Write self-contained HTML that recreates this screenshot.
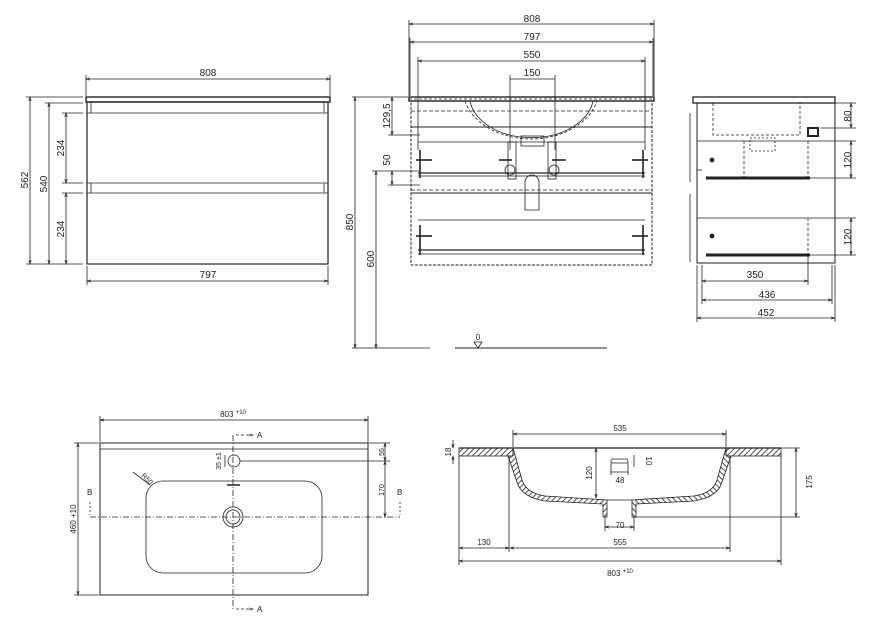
<!DOCTYPE html>
<html><head><meta charset="utf-8"><style>
html,body{margin:0;padding:0;background:#fff;}
svg{display:block;}
text{font-family:"Liberation Sans",sans-serif;font-size:10px;fill:#222;}
</style></head><body>
<svg width="875" height="630" viewBox="0 0 875 630" xmlns="http://www.w3.org/2000/svg">
<defs>
<marker id="a" markerWidth="6" markerHeight="6" refX="5" refY="3" orient="auto-start-reverse"><path d="M0,1.5 L5,3 L0,4.5" fill="none" stroke="#222" stroke-width="0.8"/></marker>
<pattern id="h" width="4" height="4" patternUnits="userSpaceOnUse" patternTransform="rotate(45)"><rect width="4" height="4" fill="#fff"/><line x1="0" y1="0" x2="0" y2="4" stroke="#222" stroke-width="1.6"/></pattern>
</defs>
<g stroke="#222" fill="none" stroke-width="0.8">
<!-- ===== Front view left ===== -->
<rect x="86" y="97" width="244" height="5" stroke-width="1.4"/>
<rect x="87" y="102" width="241" height="162" stroke-width="1.2"/>
<line x1="87" y1="113" x2="328" y2="113"/>
<line x1="87" y1="183" x2="328" y2="183"/>
<line x1="87" y1="193" x2="328" y2="193"/>
<line x1="91" y1="102" x2="91" y2="113"/><line x1="324" y1="102" x2="324" y2="113"/>
<line x1="91" y1="183" x2="91" y2="193"/><line x1="324" y1="183" x2="324" y2="193"/>
<line x1="86" y1="79" x2="330" y2="79" marker-start="url(#a)" marker-end="url(#a)"/>
<line x1="86" y1="75" x2="86" y2="96"/><line x1="330" y1="75" x2="330" y2="96"/>
<line x1="87" y1="281" x2="328" y2="281" marker-start="url(#a)" marker-end="url(#a)"/>
<line x1="87" y1="266" x2="87" y2="285"/><line x1="328" y1="266" x2="328" y2="285"/>
<line x1="30" y1="97" x2="30" y2="264" marker-start="url(#a)" marker-end="url(#a)"/>
<line x1="49" y1="103" x2="49" y2="264" marker-start="url(#a)" marker-end="url(#a)"/>
<line x1="66" y1="113" x2="66" y2="183" marker-start="url(#a)" marker-end="url(#a)"/>
<line x1="66" y1="193" x2="66" y2="264" marker-start="url(#a)" marker-end="url(#a)"/>
<line x1="26" y1="97" x2="83" y2="97"/><line x1="45" y1="103" x2="83" y2="103"/>
<line x1="62" y1="113" x2="83" y2="113"/><line x1="62" y1="183" x2="83" y2="183"/>
<line x1="62" y1="193" x2="83" y2="193"/><line x1="26" y1="264" x2="83" y2="264"/>

<!-- ===== Front view middle ===== -->
<line x1="409" y1="24" x2="654" y2="24" marker-start="url(#a)" marker-end="url(#a)"/>
<line x1="410" y1="42" x2="653" y2="42" marker-start="url(#a)" marker-end="url(#a)"/>
<line x1="418" y1="61" x2="645" y2="61" marker-start="url(#a)" marker-end="url(#a)"/>
<line x1="510" y1="79" x2="555" y2="79"/>
<line x1="409" y1="20" x2="409" y2="96"/><line x1="654" y1="20" x2="654" y2="96"/>
<line x1="410" y1="38" x2="410" y2="96"/><line x1="653" y1="38" x2="653" y2="96"/>
<line x1="418" y1="57" x2="418" y2="150"/><line x1="645" y1="57" x2="645" y2="150"/>
<line x1="510" y1="75" x2="510" y2="150"/><line x1="555" y1="75" x2="555" y2="150"/>
<rect x="409" y="97" width="245" height="4" stroke-width="1.4"/>
<line x1="409" y1="99" x2="654" y2="99" stroke-dasharray="3,2"/>
<rect x="411" y="101" width="241" height="164" stroke-dasharray="3,1.5" stroke-width="1"/>
<path d="M465,101 A68,50 0 0 0 597,101" stroke-dasharray="3,2"/>
<path d="M470,101 A62,42 0 0 0 593,101"/>
<line x1="411" y1="111" x2="652" y2="111" stroke-dasharray="4,2"/>
<line x1="411" y1="127" x2="652" y2="127" stroke-width="1"/>
<line x1="418" y1="142" x2="645" y2="142"/>
<line x1="418" y1="173" x2="645" y2="173" stroke-width="1.2"/>
<line x1="418" y1="176" x2="645" y2="176"/>
<line x1="411" y1="190" x2="652" y2="190" stroke-dasharray="4,2"/>
<line x1="411" y1="193" x2="652" y2="193" stroke-width="1"/>
<line x1="418" y1="220" x2="645" y2="220"/>
<line x1="418" y1="250" x2="645" y2="250" stroke-width="1.2"/>
<line x1="418" y1="254" x2="645" y2="254"/>
<rect x="521" y="136" width="23" height="10"/>
<rect x="508" y="142" width="8" height="37"/><rect x="548" y="142" width="8" height="37"/>
<circle cx="510" cy="170" r="5"/><circle cx="554" cy="170" r="5"/>
<path d="M525,210 L525,182 A7,7 0 0 1 539,182 L539,210 Z"/>
<g stroke-width="1.6">
<line x1="420" y1="150" x2="420" y2="178"/><line x1="643" y1="150" x2="643" y2="178"/>
<line x1="420" y1="225" x2="420" y2="255"/><line x1="643" y1="225" x2="643" y2="255"/>
<line x1="416" y1="160" x2="432" y2="160"/><line x1="632" y1="160" x2="648" y2="160"/>
<line x1="416" y1="236" x2="432" y2="236"/><line x1="632" y1="236" x2="648" y2="236"/>
<line x1="499" y1="160" x2="512" y2="160"/><line x1="552" y1="160" x2="566" y2="160"/>
</g>
<line x1="355" y1="97" x2="355" y2="348" marker-start="url(#a)" marker-end="url(#a)"/>
<line x1="376" y1="171" x2="376" y2="348" marker-start="url(#a)" marker-end="url(#a)"/>
<line x1="392" y1="97" x2="392" y2="135" marker-start="url(#a)" marker-end="url(#a)"/>
<line x1="392" y1="171" x2="392" y2="185" marker-start="url(#a)" marker-end="url(#a)"/>
<line x1="352" y1="97" x2="408" y2="97"/><line x1="388" y1="135" x2="420" y2="135"/>
<line x1="372" y1="171" x2="420" y2="171"/><line x1="388" y1="185" x2="420" y2="185"/>
<line x1="352" y1="348" x2="430" y2="348"/>
<line x1="455" y1="348" x2="607" y2="348" stroke-width="1"/>
<path d="M474,342 L482,342 L478,348 Z"/>

<!-- ===== Side view ===== -->
<rect x="693" y="97" width="142" height="6" stroke-width="1.3"/>
<rect x="697" y="103" width="138" height="160" stroke-width="1"/>
<line x1="697" y1="141" x2="808" y2="141"/>
<line x1="697" y1="218" x2="808" y2="218"/>
<line x1="706" y1="178" x2="810" y2="178" stroke-width="3"/>
<line x1="706" y1="255" x2="810" y2="255" stroke-width="3"/>
<path d="M713,103 V135 H800 V103" stroke-dasharray="3,2"/>
<path d="M744,141 V180 M808,141 V180 M808,218 V256" stroke-dasharray="3,2"/>
<rect x="750" y="138" width="25" height="13" stroke-dasharray="2,2"/>
<rect x="808" y="128" width="10" height="8" stroke-width="2"/>
<line x1="697" y1="170" x2="702" y2="170"/><line x1="690" y1="113" x2="690" y2="182"/>
<line x1="690" y1="194" x2="690" y2="262"/>
<circle cx="712" cy="160" r="2" fill="#222"/><circle cx="712" cy="236" r="2" fill="#222"/>
<line x1="851" y1="103" x2="851" y2="128" marker-start="url(#a)" marker-end="url(#a)"/>
<line x1="851" y1="141" x2="851" y2="178" marker-start="url(#a)" marker-end="url(#a)"/>
<line x1="851" y1="218" x2="851" y2="255" marker-start="url(#a)" marker-end="url(#a)"/>
<line x1="835" y1="103" x2="856" y2="103"/><line x1="820" y1="128" x2="856" y2="128"/>
<line x1="808" y1="141" x2="856" y2="141"/><line x1="808" y1="178" x2="856" y2="178"/>
<line x1="808" y1="218" x2="856" y2="218"/><line x1="808" y1="255" x2="856" y2="255"/>
<line x1="702" y1="281" x2="808" y2="281" marker-start="url(#a)" marker-end="url(#a)"/>
<line x1="702" y1="300" x2="832" y2="300" marker-start="url(#a)" marker-end="url(#a)"/>
<line x1="697" y1="318" x2="835" y2="318" marker-start="url(#a)" marker-end="url(#a)"/>
<line x1="702" y1="265" x2="702" y2="304"/><line x1="808" y1="256" x2="808" y2="285"/>
<line x1="832" y1="265" x2="832" y2="304"/><line x1="697" y1="265" x2="697" y2="322"/>
<line x1="835" y1="265" x2="835" y2="322"/>

<!-- ===== Plan view ===== -->
<rect x="100" y="443" width="268" height="152" stroke-width="1"/>
<line x1="100" y1="449" x2="368" y2="449"/>
<rect x="146" y="481" width="176" height="92" rx="17"/>
<circle cx="233" cy="517" r="10"/><circle cx="233" cy="517" r="7"/>
<circle cx="234" cy="461" r="6"/>
<line x1="227" y1="485" x2="240" y2="485" stroke-width="1.5"/>
<line x1="233" y1="435" x2="233" y2="610" stroke-dasharray="6,2,1,2"/>
<line x1="236" y1="435" x2="253" y2="435" stroke-dasharray="3,2" marker-end="url(#a)"/>
<line x1="236" y1="609" x2="253" y2="609" stroke-dasharray="3,2" marker-end="url(#a)"/>
<line x1="90" y1="517" x2="400" y2="517" stroke-dasharray="6,2,1,2"/>
<line x1="90" y1="502" x2="90" y2="515" stroke-dasharray="2,2"/>
<line x1="400" y1="502" x2="400" y2="515" stroke-dasharray="2,2"/>
<line x1="100" y1="420" x2="368" y2="420" marker-start="url(#a)" marker-end="url(#a)"/>
<line x1="100" y1="416" x2="100" y2="442"/><line x1="368" y1="416" x2="368" y2="442"/>
<line x1="78" y1="443" x2="78" y2="595" marker-start="url(#a)" marker-end="url(#a)"/>
<line x1="74" y1="443" x2="99" y2="443"/><line x1="74" y1="595" x2="99" y2="595"/>
<line x1="385" y1="443" x2="385" y2="461" marker-start="url(#a)" marker-end="url(#a)"/>
<line x1="385" y1="461" x2="385" y2="517" marker-start="url(#a)" marker-end="url(#a)"/>
<line x1="368" y1="443" x2="390" y2="443"/><line x1="240" y1="461" x2="390" y2="461"/>
<line x1="225" y1="455" x2="225" y2="467"/>
<line x1="133" y1="472" x2="150" y2="485"/>

<!-- ===== Section ===== -->
<rect x="459" y="448" width="54" height="8" fill="url(#h)"/>
<rect x="726" y="448" width="55" height="8" fill="url(#h)"/>
<path d="M513,448 L522,480 Q526,493 545,496 L607,500 L607,517 L603,517 L603,504 L545,501 Q521,497 517,482 L508,456 L513,456 Z" fill="url(#h)"/>
<g transform="translate(1239,0) scale(-1,1)"><path d="M513,448 L522,480 Q526,493 545,496 L607,500 L607,517 L603,517 L603,504 L545,501 Q521,497 517,482 L508,456 L513,456 Z" fill="url(#h)"/></g>
<line x1="459" y1="448" x2="781" y2="448" stroke-width="1.2"/>
<line x1="607" y1="500" x2="632" y2="500"/>
<rect x="611" y="459" width="17" height="4" rx="2"/>
<line x1="513" y1="434" x2="726" y2="434" marker-start="url(#a)" marker-end="url(#a)"/>
<line x1="513" y1="430" x2="513" y2="447"/><line x1="726" y1="430" x2="726" y2="447"/>
<line x1="453" y1="440" x2="453" y2="448" marker-end="url(#a)"/><line x1="453" y1="464" x2="453" y2="456" marker-end="url(#a)"/>
<line x1="596" y1="448" x2="596" y2="498" marker-start="url(#a)" marker-end="url(#a)"/>
<line x1="796" y1="448" x2="796" y2="517" marker-start="url(#a)" marker-end="url(#a)"/>
<line x1="781" y1="448" x2="800" y2="448"/><line x1="632" y1="517" x2="800" y2="517"/>
<line x1="605" y1="527" x2="634" y2="527" marker-start="url(#a)" marker-end="url(#a)"/>
<line x1="605" y1="517" x2="605" y2="531"/><line x1="634" y1="517" x2="634" y2="531"/>
<line x1="611" y1="472" x2="628" y2="472"/><line x1="611" y1="463" x2="611" y2="475"/><line x1="628" y1="463" x2="628" y2="475"/>
<line x1="634" y1="455" x2="634" y2="467"/>
<line x1="459" y1="548" x2="509" y2="548" marker-start="url(#a)" marker-end="url(#a)"/>
<line x1="510" y1="548" x2="730" y2="548" marker-start="url(#a)" marker-end="url(#a)"/>
<line x1="459" y1="561" x2="781" y2="561" marker-start="url(#a)" marker-end="url(#a)"/>
<line x1="459" y1="456" x2="459" y2="565"/><line x1="781" y1="456" x2="781" y2="565"/>
<line x1="509" y1="456" x2="509" y2="552"/><line x1="730" y1="456" x2="730" y2="552"/>
</g>

<!-- ===== Text ===== -->
<g>
<text x="208" y="76" text-anchor="middle">808</text>
<text x="208" y="278" text-anchor="middle">797</text>
<text transform="translate(28,180) rotate(-90)" text-anchor="middle">562</text>
<text transform="translate(47,184) rotate(-90)" text-anchor="middle">540</text>
<text transform="translate(64,148) rotate(-90)" text-anchor="middle">234</text>
<text transform="translate(64,229) rotate(-90)" text-anchor="middle">234</text>

<text x="532" y="22" text-anchor="middle">808</text>
<text x="532" y="40" text-anchor="middle">797</text>
<text x="532" y="58" text-anchor="middle">550</text>
<text x="532" y="76" text-anchor="middle">150</text>
<text transform="translate(353,222) rotate(-90)" text-anchor="middle">850</text>
<text transform="translate(374,259) rotate(-90)" text-anchor="middle">600</text>
<text transform="translate(390,116) rotate(-90)" text-anchor="middle">129,5</text>
<text transform="translate(390,160) rotate(-90)" text-anchor="middle">50</text>
<text x="478" y="340" text-anchor="middle" style="font-size:8px">0</text>

<text transform="translate(851,116) rotate(-90)" text-anchor="middle">80</text>
<text transform="translate(851,160) rotate(-90)" text-anchor="middle">120</text>
<text transform="translate(851,237) rotate(-90)" text-anchor="middle">120</text>
<text x="755" y="278" text-anchor="middle">350</text>
<text x="767" y="298" text-anchor="middle">436</text>
<text x="766" y="316" text-anchor="middle">452</text>

<text x="233" y="417" text-anchor="middle" style="font-size:8px">803 <tspan dy="-3" style="font-size:6px">+10</tspan></text>
<text x="257" y="438" style="font-size:8px">A</text>
<text x="257" y="612" style="font-size:8px">A</text>
<text x="87" y="495" style="font-size:8px">B</text>
<text x="397" y="495" style="font-size:8px">B</text>
<text transform="translate(76,519) rotate(-90)" text-anchor="middle" style="font-size:8px">460 +10</text>
<text transform="translate(384,452) rotate(-90)" text-anchor="middle" style="font-size:7px">55</text>
<text transform="translate(384,490) rotate(-90)" text-anchor="middle" style="font-size:7px">170</text>
<text transform="translate(221,461) rotate(-90)" text-anchor="middle" style="font-size:7px">35 ±1</text>
<text transform="translate(141,476) rotate(45)" style="font-size:7px">R50</text>

<text x="620" y="431" text-anchor="middle" style="font-size:8px">535</text>
<text transform="translate(451,452) rotate(-90)" text-anchor="middle" style="font-size:8px">18</text>
<text transform="translate(592,473) rotate(-90)" text-anchor="middle" style="font-size:8px">120</text>
<text transform="translate(646,461) rotate(90)" text-anchor="middle" style="font-size:8px">10</text>
<text x="620" y="483" text-anchor="middle" style="font-size:8px">48</text>
<text transform="translate(812,482) rotate(-90)" text-anchor="middle" style="font-size:8px">175</text>
<text x="620" y="528" text-anchor="middle" style="font-size:8px">70</text>
<text x="484" y="545" text-anchor="middle" style="font-size:8px">130</text>
<text x="620" y="545" text-anchor="middle" style="font-size:8px">555</text>
<text x="620" y="576" text-anchor="middle" style="font-size:8px">803 <tspan dy="-3" style="font-size:6px">+10</tspan></text>
</g>
</svg>
</body></html>
